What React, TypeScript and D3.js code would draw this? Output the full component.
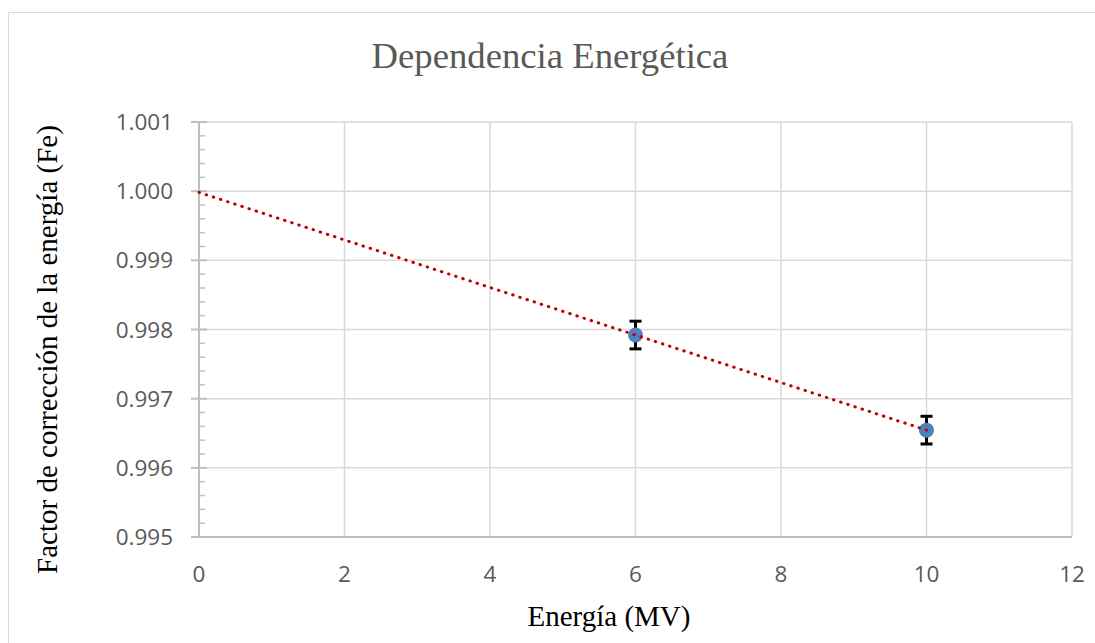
import React from "react";
import * as d3 from "d3";

// Measured correction factors for each beam energy
const energies = [6, 10];
const factors = [0.99792, 0.996545];
const errors = [0.0002, 0.0002];

const xTicks = [0, 2, 4, 6, 8, 10, 12];
const yTicks = [0.995, 0.996, 0.997, 0.998, 0.999, 1.0, 1.001];

const W = 1095;
const H = 643;
const M = { left: 199, right: 1072, top: 122, bottom: 537 };

export default function App() {
  const x = d3.scaleLinear().domain([0, 12]).range([M.left, M.right]);
  const y = d3.scaleLinear().domain([0.995, 1.001]).range([M.bottom, M.top]);

  // Least-squares linear trend, projected back to 0 MV
  const n = energies.length;
  const mx = d3.mean(energies)!;
  const my = d3.mean(factors)!;
  let sxy = 0;
  let sxx = 0;
  for (let i = 0; i < n; i++) {
    sxy += (energies[i] - mx) * (factors[i] - my);
    sxx += (energies[i] - mx) ** 2;
  }
  const slope = sxy / sxx;
  const intercept = my - slope * mx;
  const trend: [number, number][] = [0, d3.max(energies)!].map((e) => [e, intercept + slope * e]);
  const line = d3
    .line<[number, number]>()
    .x((d) => x(d[0]))
    .y((d) => y(d[1]));

  const minorTicks = d3.range(0.995, 1.001, 0.0002).filter(
    (v) => !yTicks.some((t) => Math.abs(t - v) < 1e-9)
  );

  const sans = "'Open Sans', 'Liberation Sans', sans-serif";
  const serif = "'Liberation Serif', 'Times New Roman', serif";

  return (
    <svg
      width={W}
      height={H}
      style={{ position: "absolute", left: 0, top: 0, background: "#fff" }}
    >
      <rect x={8.5} y={12.5} width={1100} height={700} fill="#fff" stroke="#d9d9d9" />

      <text
        x={550}
        y={68}
        textAnchor="middle"
        fontFamily={serif}
        fontSize={36.7}
        fill="#595959"
      >
        Dependencia Energética
      </text>

      {/* grid */}
      {xTicks.map((t) => (
        <line key={"gx" + t} x1={x(t)} x2={x(t)} y1={M.top} y2={M.bottom} stroke="#d9d9d9" strokeWidth={1.5} />
      ))}
      {yTicks.map((t) => (
        <line key={"gy" + t} x1={M.left} x2={M.right} y1={y(t)} y2={y(t)} stroke="#d9d9d9" strokeWidth={1.5} />
      ))}

      {/* axes */}
      <line x1={M.left} x2={M.left} y1={M.top} y2={M.bottom} stroke="#bfbfbf" strokeWidth={2} />
      <line x1={M.left} x2={M.right} y1={M.bottom} y2={M.bottom} stroke="#bfbfbf" strokeWidth={2} />
      {yTicks.map((t) => (
        <line key={"ty" + t} x1={M.left - 8} x2={M.left + 8} y1={y(t)} y2={y(t)} stroke="#bfbfbf" strokeWidth={2} />
      ))}
      {minorTicks.map((t, i) => (
        <line key={"my" + i} x1={M.left} x2={M.left + 6} y1={y(t)} y2={y(t)} stroke="#bfbfbf" strokeWidth={1.5} />
      ))}

      {yTicks.map((t) => (
        <text
          key={"ly" + t}
          x={173}
          y={y(t)}
          dy="0.36em"
          textAnchor="end"
          fontFamily={sans}
          fontSize={22.5}
          fill="#595959"
        >
          {d3.format(".3f")(t)}
        </text>
      ))}
      {xTicks.map((t) => (
        <text
          key={"lx" + t}
          x={x(t)}
          y={582}
          textAnchor="middle"
          fontFamily={sans}
          fontSize={22.5}
          fill="#595959"
        >
          {t}
        </text>
      ))}

      {/* error bars */}
      {energies.map((e, i) => {
        const cx = x(e);
        const y1 = y(factors[i] + errors[i]);
        const y2 = y(factors[i] - errors[i]);
        return (
          <g key={"eb" + i} stroke="#000" strokeWidth={3}>
            <line x1={cx} x2={cx} y1={y1} y2={y2} />
            <line x1={cx - 6} x2={cx + 6} y1={y1} y2={y1} />
            <line x1={cx - 6} x2={cx + 6} y1={y2} y2={y2} />
          </g>
        );
      })}

      {/* markers */}
      {energies.map((e, i) => (
        <circle key={"pt" + i} cx={x(e)} cy={y(factors[i])} r={7.5} fill="#4f81bd" />
      ))}

      {/* trendline */}
      <path
        d={line(trend)!}
        fill="none"
        stroke="#c00000"
        strokeWidth={3}
        strokeLinecap="round"
        strokeDasharray="0.5 7"
      />

      <text
        x={609}
        y={626}
        textAnchor="middle"
        fontFamily={serif}
        fontSize={29}
        fill="#000"
      >
        Energía (MV)
      </text>
      <text
        transform={`translate(57, ${(M.top + M.bottom) / 2 + 20}) rotate(-90)`}
        textAnchor="middle"
        fontFamily={serif}
        fontSize={29}
        fill="#000"
      >
        Factor de corrección de la energía (Fe)
      </text>
    </svg>
  );
}
